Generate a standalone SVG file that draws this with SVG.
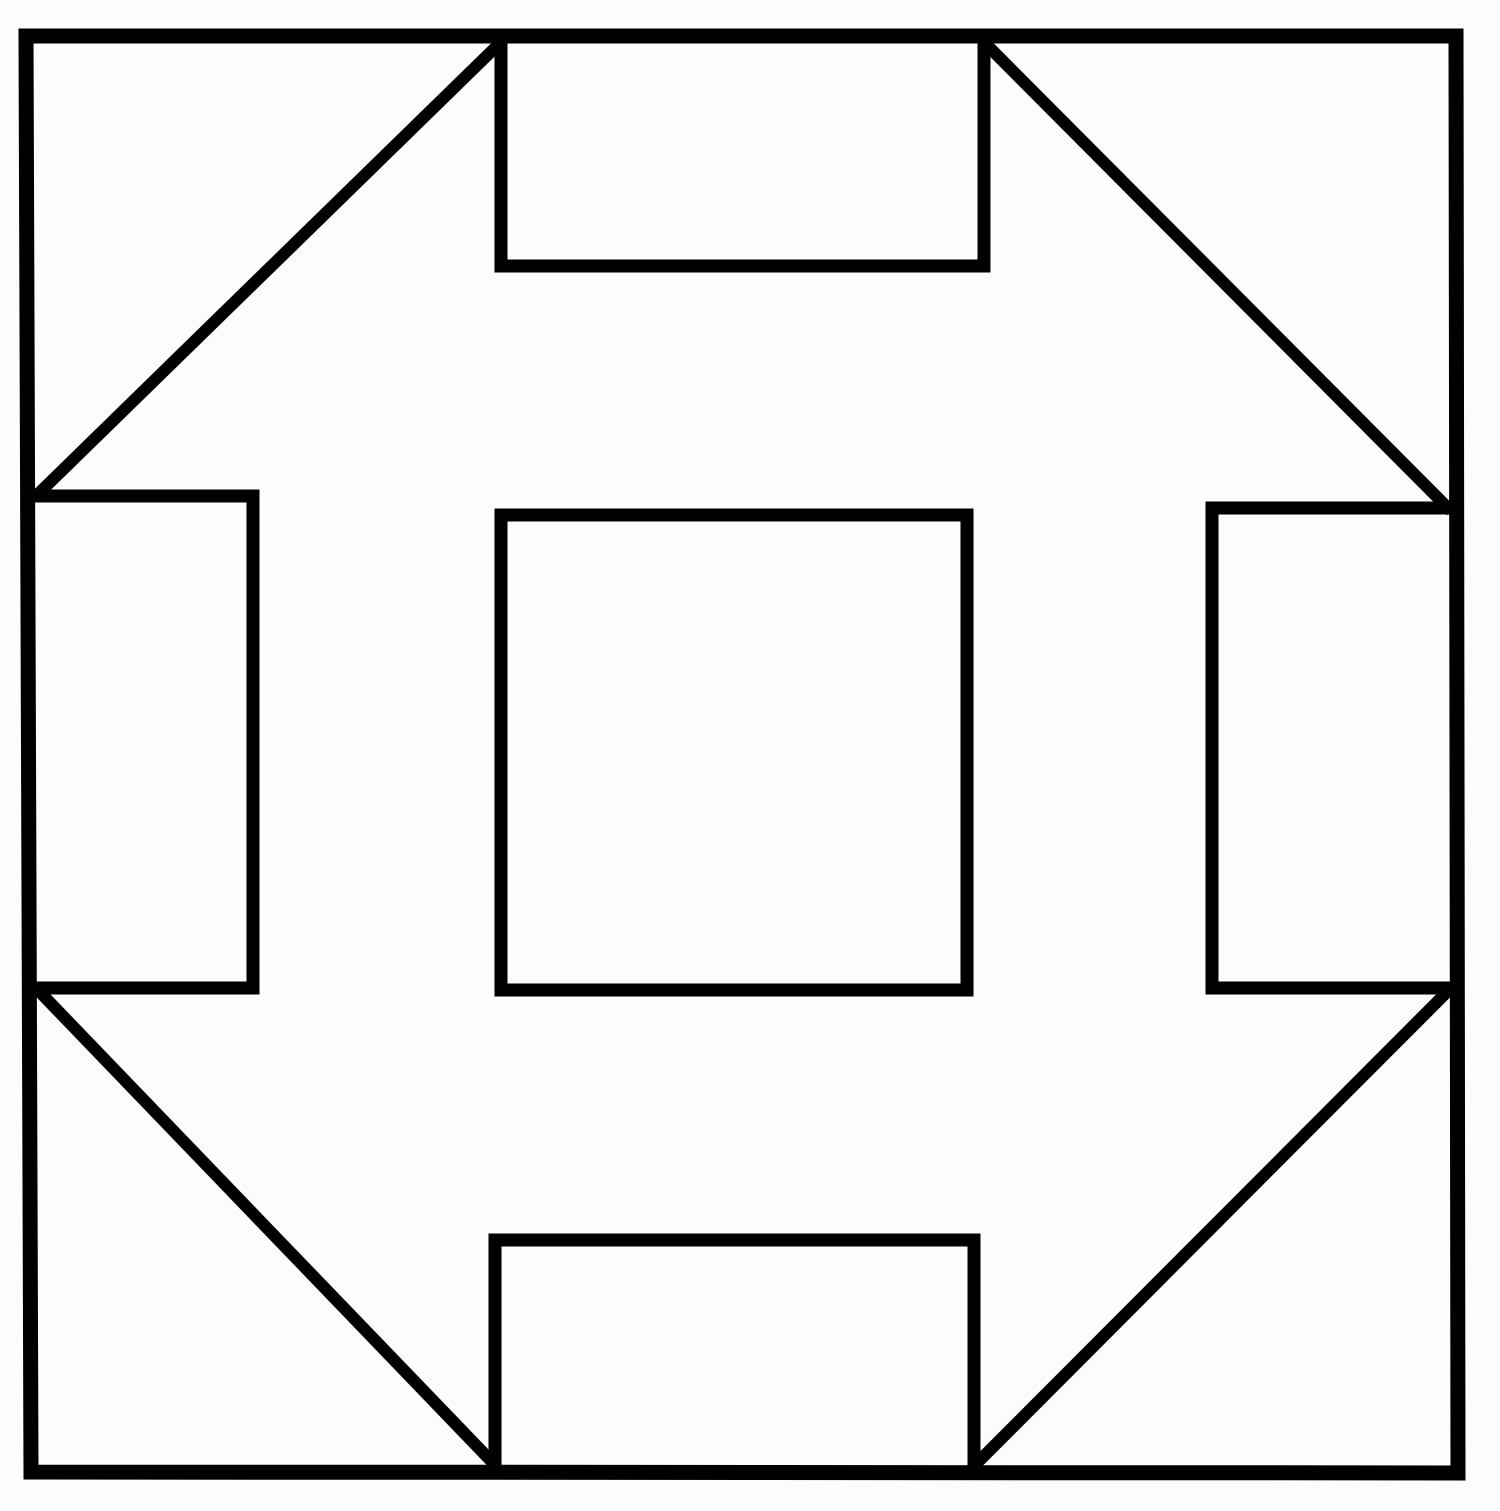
<svg xmlns="http://www.w3.org/2000/svg" width="1500" height="1511" viewBox="0 0 1500 1511">
<style>
.s{fill:none;stroke:#000;stroke-width:13;stroke-linejoin:miter;stroke-linecap:butt}
.o{fill:none;stroke:#000;stroke-width:15;stroke-linejoin:miter}
.d{fill:none;stroke:#000;stroke-width:12;stroke-linecap:butt}
</style>
<rect x="0" y="0" width="1500" height="1511" fill="#fcfcfc"/>
<g id="diagonals">
<line class="d" x1="501" y1="42" x2="36" y2="496"/>
<line class="d" x1="984" y1="42" x2="1451" y2="511"/>
<line class="d" x1="36" y1="988" x2="496" y2="1466"/>
<line class="d" x1="974" y1="1466" x2="1451" y2="988"/>
</g>
<g id="top-rect"><polyline class="s" points="501,36 501,266 984,266 984,36"/></g>
<g id="left-rect"><polyline class="s" points="29,496 253,496 253,988 30,988"/></g>
<g id="right-rect"><polyline class="s" points="1457,508 1212,508 1212,988 1457,988"/></g>
<g id="bottom-rect"><polyline class="s" points="495,1472 495,1240 974,1240 974,1472"/></g>
<g id="center"><rect class="s" x="501" y="515" width="466" height="475"/></g>
<g id="outer"><polygon class="o" points="26,36 1456,36 1458,1473 31,1472"/></g>
</svg>
